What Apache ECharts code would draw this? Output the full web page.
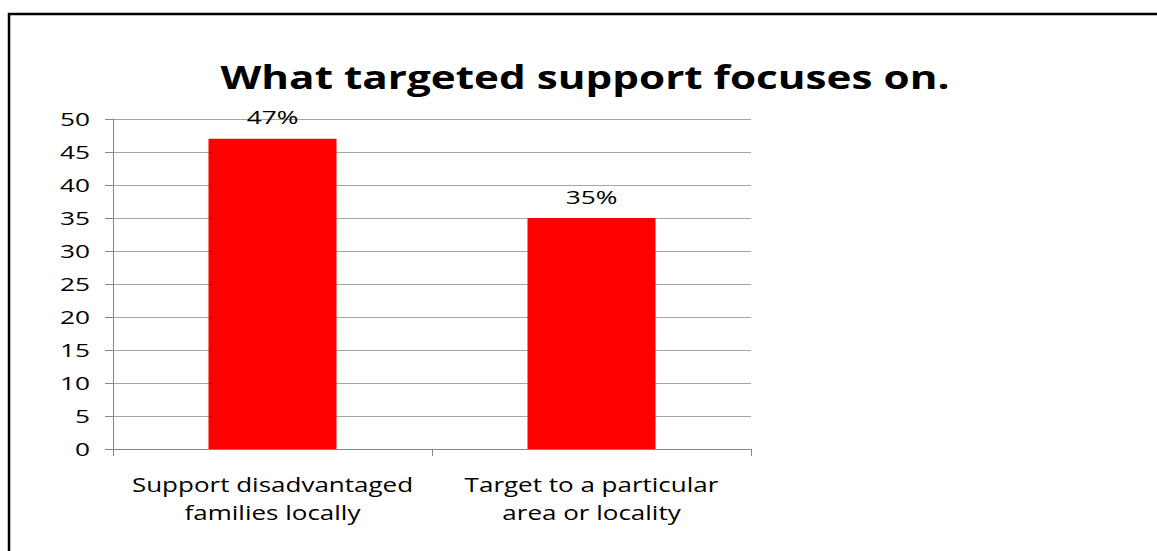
<!DOCTYPE html>
<html>
<head>
<meta charset="utf-8">
<script src="https://cdn.jsdelivr.net/npm/echarts@6/dist/echarts.min.js"></script>
<style>
  html, body { margin: 0; padding: 0; background: #ffffff; }
  #chart { width: 1157px; height: 551px; }
</style>
</head>
<body>
<div id="chart"></div>
<script>
// Chart data
const titleText = 'What targeted support focuses on.';
const categories = ['Support disadvantaged\nfamilies locally', 'Target to a particular\narea or locality'];
const values = [47, 35];
const valueLabels = ['47%', '35%'];
const yMin = 0;
const yMax = 50;
const yStep = 5;

// horizontal widening applied to the lettering
const titleStretch = 1.32;
const wordStretch = 1.3;
const numberStretch = 1.38;

const chart = echarts.init(document.getElementById('chart'), null, { renderer: 'svg' });

const option = {
  backgroundColor: '#ffffff',
  animation: false,
  title: {
    text: titleText,
    left: 580,
    top: 56,
    textAlign: 'center',
    textStyle: {
      fontFamily: 'Open Sans',
      fontWeight: 'bold',
      fontSize: 32,
      color: '#000000'
    }
  },
  graphic: [{
    type: 'rect',
    silent: true,
    shape: { x: 9, y: 14, width: 1300, height: 700 },
    style: { fill: 'none', stroke: '#000000', lineWidth: 2.5 }
  }],
  grid: {
    left: 113,
    right: 406,
    top: 119,
    bottom: 102,
    containLabel: false
  },
  xAxis: {
    type: 'category',
    data: categories,
    boundaryGap: true,
    axisLine: { show: true, lineStyle: { color: '#868686', width: 1 } },
    axisTick: { show: true, length: 7, alignWithLabel: false, lineStyle: { color: '#868686' } },
    axisLabel: {
      margin: 21,
      interval: 0,
      fontFamily: 'Open Sans',
      fontSize: 20,
      lineHeight: 28,
      color: '#000000'
    },
    splitLine: { show: false }
  },
  yAxis: {
    type: 'value',
    min: yMin,
    max: yMax,
    interval: yStep,
    axisLine: { show: true, lineStyle: { color: '#868686', width: 1 } },
    axisTick: { show: true, length: 8, lineStyle: { color: '#868686' } },
    axisLabel: {
      margin: 23,
      fontFamily: 'Open Sans',
      fontSize: 19,
      color: '#000000'
    },
    splitLine: { show: true, lineStyle: { color: '#a6a6a6', width: 1 } }
  },
  series: [{
    type: 'bar',
    data: values,
    barWidth: 128,
    itemStyle: { color: '#ff0000' },
    label: {
      show: true,
      position: 'top',
      distance: 12,
      fontFamily: 'Open Sans',
      fontSize: 19,
      color: '#000000',
      formatter: function (p) { return valueLabels[p.dataIndex]; }
    }
  }]
};

chart.setOption(option);

// Widen each text horizontally about its own anchor point
document.querySelectorAll('#chart text').forEach(function (t) {
  const s = t.textContent.trim();
  let k = wordStretch;
  if (s === titleText) k = titleStretch;
  else if (/^[0-9]+%?$/.test(s)) k = numberStretch;
  const ax = parseFloat(t.getAttribute('x') || '0');
  const base = t.getAttribute('transform') || '';
  t.setAttribute('transform',
    (base + ' translate(' + ax + ',0) scale(' + k + ',1) translate(' + (-ax) + ',0)').trim());
});
</script>
</body>
</html>
